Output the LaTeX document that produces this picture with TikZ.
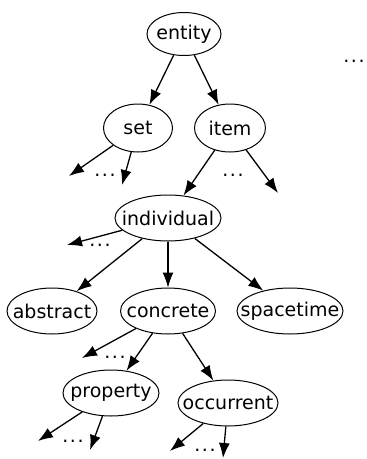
\documentclass[tikz,border=0pt]{standalone}
\usepackage{fontspec}
\setmainfont{DejaVu Sans}
\usepackage{tikz}
\usetikzlibrary{arrows.meta}
\usetikzlibrary{shapes.geometric}

\tikzset{
  cls/.style={ellipse, draw, line width=1pt, inner xsep=-12pt, inner ysep=0pt,
    minimum height=46pt, font=\fontsize{19}{21}\selectfont},
  isa/.style={-{Latex[length=15pt,width=11pt]}, line width=1.3pt},
  more/.style={anchor=base, inner sep=0pt, font=\fontsize{19}{21}\selectfont}
}

\begin{document}
\begin{tikzpicture}[x=1pt,y=-1pt]
\useasboundingbox (0,0) rectangle (367,459);
\node[cls, minimum width=74pt, minimum height=43pt] (entity) at (184,34) {entity};
\node[cls, minimum width=69pt, minimum height=48pt] (set) at (138,128) {set};
\node[cls, minimum width=71pt, minimum height=48pt] (item) at (230,128) {item};
\node[cls, minimum width=106pt] (individual) at (168,218) {individual};
\node[cls, minimum width=90pt] (abstract) at (52,311) {abstract};
\node[cls, minimum width=95pt] (concrete) at (168,311) {concrete};
\node[cls, minimum width=106pt] (spacetime) at (290,311) {spacetime};
\node[cls, minimum width=96pt] (property) at (111,393) {property};
\node[cls, minimum width=100pt] (occurrent) at (228,403) {occurrent};

\coordinate (setL) at (69,176);
\coordinate (setR) at (122,185);
\coordinate (itemR) at (278,193);
\coordinate (indL) at (67,245);
\coordinate (concL) at (82,358);
\coordinate (propL) at (38,441);
\coordinate (propR) at (90,450);
\coordinate (occL) at (170,451);
\coordinate (occR) at (223,458);

\node[more] (topD) at (354,62) {.\kern1.5pt.\kern1.5pt.};
\node[more] (setD) at (105,176) {.\kern1.5pt.\kern1.5pt.};
\node[more] (itemD) at (233,176) {.\kern1.5pt.\kern1.5pt.};
\node[more] (indD) at (100,246) {.\kern1.5pt.\kern1.5pt.};
\node[more] (concD) at (115,358) {.\kern1.5pt.\kern1.5pt.};
\node[more] (propD) at (73,442) {.\kern1.5pt.\kern1.5pt.};
\node[more] (occD) at (205,451) {.\kern1.5pt.\kern1.5pt.};

\draw[isa] (entity) -- (set);
\draw[isa] (entity) -- (item);
\draw[isa] (set) -- (setL);
\draw[isa] (set) -- (setR);
\draw[isa] (item) -- (individual);
\draw[isa] (item) -- (itemR);
\draw[isa] (individual) -- (indL);
\draw[isa] (individual) -- (abstract);
\draw[isa] (individual) -- (concrete);
\draw[isa] (individual) -- (spacetime);
\draw[isa] (concrete) -- (concL);
\draw[isa] (concrete) -- (property);
\draw[isa] (concrete) -- (occurrent);
\draw[isa] (property) -- (propL);
\draw[isa] (property) -- (propR);
\draw[isa] (occurrent) -- (occL);
\draw[isa] (occurrent) -- (occR);
\end{tikzpicture}
\end{document}
